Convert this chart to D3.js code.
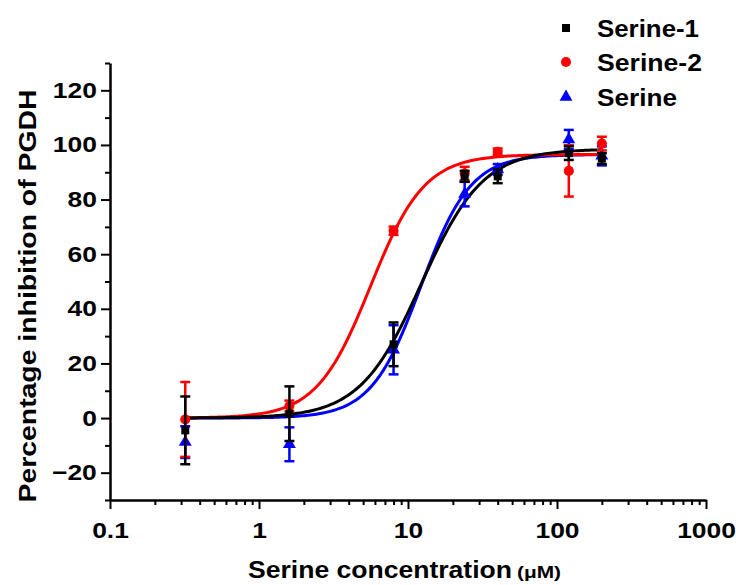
<!DOCTYPE html>
<html>
<head>
<meta charset="utf-8">
<script src="https://cdn.jsdelivr.net/npm/d3@7"></script>
<style>
  body { margin: 0; background: #fff; }
  svg text { font-family: 'Liberation Sans', Arial, sans-serif; font-weight: bold; fill: #000; }
</style>
</head>
<body>
<svg id="chart" width="736" height="585"></svg>
<script>
// concentrations (µM) and measured inhibition (%)
const concentrations = [0.32, 1.6, 8, 24, 40, 120, 200]
const serine1Mean = [-4.5, 1.6, 27, 88.5, 88.5, 97, 95]
const serine1Err = [12.4, 10, 8, 2, 2.5, 2.5, 2]
const serine2Mean = [-0.5, 4.4, 68.6, 89.5, 97.5, 90.5, 100.5]
const serine2Err = [13.7, 2, 1.5, 2.5, 1.2, 9.4, 2.5]
const serineMean = [-8.8, -9.6, 25, 82, 91, 102, 96]
const serineErr = [5.8, 6.2, 9, 4.5, 2, 3.5, 3.5]

// dose-response fit parameters (Serine-1, Serine-2, Serine)
const seriesNames = ['Serine-1', 'Serine-2', 'Serine']
const fitBottom = [0, 0, 0]
const fitTop = [98.5, 96.5, 96.5]
const fitEC50 = [12.3, 5.6, 12.2]
const fitHill = [2.1, 2.4, 2.6]

const xTicks = [0.1, 1, 10, 100, 1000]
const yTicks = [-20, 0, 20, 40, 60, 80, 100, 120]

const colors = ['#000000', '#ff0000', '#0000ff']
const shapes = [d3.symbolSquare, d3.symbolCircle, d3.symbolTriangle]
const symbolSizes = [64, 80, 72]

const svg = d3.select('#chart')
const margin = { top: 63, right: 30, bottom: 85, left: 110 }

const x = d3.scaleLog()
  .domain([0.1, 1000])
  .range([margin.left, 706])

const y = d3.scaleLinear()
  .domain([-30, 130])
  .range([500, margin.top])

// minor ticks
const xMinor = []
for (let e = -1; e < 3; e++) {
  for (let m = 2; m < 10; m++) xMinor.push(m * Math.pow(10, e))
}
const yMinor = d3.range(-30, 131, 10).filter(v => yTicks.indexOf(v) < 0)

const styleAxis = g => {
  g.selectAll('path').attr('stroke', '#000').attr('stroke-width', 2.5)
  g.selectAll('line').attr('stroke', '#000').attr('stroke-width', 2)
}

svg.append('g')
  .attr('transform', 'translate(0,500)')
  .call(d3.axisBottom(x).tickValues(xMinor).tickSize(5).tickFormat('').tickSizeOuter(0))
  .call(styleAxis)
  .call(g => g.select('.domain').remove())

svg.append('g')
  .attr('transform', `translate(${margin.left},0)`)
  .call(d3.axisLeft(y).tickValues(yMinor).tickSize(5).tickFormat('').tickSizeOuter(0))
  .call(styleAxis)
  .call(g => g.select('.domain').remove())

svg.append('g')
  .attr('transform', 'translate(0,500)')
  .call(d3.axisBottom(x).tickValues(xTicks).tickSize(9).tickSizeOuter(0).tickPadding(13)
    .tickFormat(d => String(d)))
  .call(styleAxis)
  .call(g => g.selectAll('text')
    .attr('font-size', 22).attr('font-family', null)
    .attr('transform', 'scale(1.2,1)'))

svg.append('g')
  .attr('transform', `translate(${margin.left},0)`)
  .call(d3.axisLeft(y).tickValues(yTicks).tickSize(9).tickSizeOuter(0).tickPadding(3))
  .call(styleAxis)
  .call(g => g.selectAll('text')
    .attr('font-size', 22).attr('font-family', null)
    .attr('x', -11)
    .attr('transform', 'scale(1.2,1)'))

// axis titles
svg.append('text')
  .attr('x', 248).attr('y', 578)
  .attr('font-size', 23)
  .attr('textLength', 264).attr('lengthAdjust', 'spacingAndGlyphs')
  .text('Serine concentration')
svg.append('text')
  .attr('x', 517).attr('y', 578)
  .attr('font-size', 17)
  .attr('textLength', 44).attr('lengthAdjust', 'spacingAndGlyphs')
  .text('(μM)')

svg.append('text')
  .attr('transform', 'translate(36,296) rotate(-90)')
  .attr('text-anchor', 'middle')
  .attr('font-size', 24)
  .attr('textLength', 413).attr('lengthAdjust', 'spacingAndGlyphs')
  .text('Percentage inhibition of PGDH')

// fitted curves
const hill = i => c => fitBottom[i] + (fitTop[i] - fitBottom[i]) / (1 + Math.pow(fitEC50[i] / c, fitHill[i]))
const curveX = d3.range(0, 201).map(k => Math.pow(10, Math.log10(0.32) + k / 200 * (Math.log10(200) - Math.log10(0.32))))
const line = d3.line().x(d => x(d[0])).y(d => y(d[1]))

const means = [serine1Mean, serine2Mean, serineMean]
const errs = [serine1Err, serine2Err, serineErr]

const drawOrder = [2, 1, 0]
drawOrder.forEach(i => {
  const f = hill(i)
  svg.append('path')
    .datum(curveX.map(c => [c, f(c)]))
    .attr('d', line)
    .attr('fill', 'none')
    .attr('stroke', colors[i])
    .attr('stroke-width', 3)
})

// error bars + markers
drawOrder.forEach(i => {
  const pts = concentrations.map((c, j) => ({ c, m: means[i][j], e: errs[i][j] }))
  const g = svg.append('g')
  g.selectAll('line.bar').data(pts).enter().append('line')
    .attr('x1', d => x(d.c)).attr('x2', d => x(d.c))
    .attr('y1', d => y(d.m - d.e)).attr('y2', d => y(d.m + d.e))
    .attr('stroke', colors[i]).attr('stroke-width', 2.5)
  ;[-1, 1].forEach(s => {
    g.selectAll(null).data(pts).enter().append('line')
      .attr('x1', d => x(d.c) - 5).attr('x2', d => x(d.c) + 5)
      .attr('y1', d => y(d.m + s * d.e)).attr('y2', d => y(d.m + s * d.e))
      .attr('stroke', colors[i]).attr('stroke-width', 2.5)
  })
  g.selectAll('path').data(pts).enter().append('path')
    .attr('d', d3.symbol().type(shapes[i]).size(symbolSizes[i]))
    .attr('transform', d => `translate(${x(d.c)},${y(d.m)})`)
    .attr('fill', colors[i])
})

// legend
const legendY = [28, 62, 97]
const legendLen = [102, 105, 80]
seriesNames.forEach((name, i) => {
  svg.append('path')
    .attr('d', d3.symbol().type(shapes[i]).size(symbolSizes[i]))
    .attr('transform', `translate(566,${legendY[i]})`)
    .attr('fill', colors[i])
  svg.append('text')
    .attr('x', 597).attr('y', legendY[i] + 8.5)
    .attr('font-size', 24)
    .attr('textLength', legendLen[i]).attr('lengthAdjust', 'spacingAndGlyphs')
    .text(name)
})
</script>
</body>
</html>
